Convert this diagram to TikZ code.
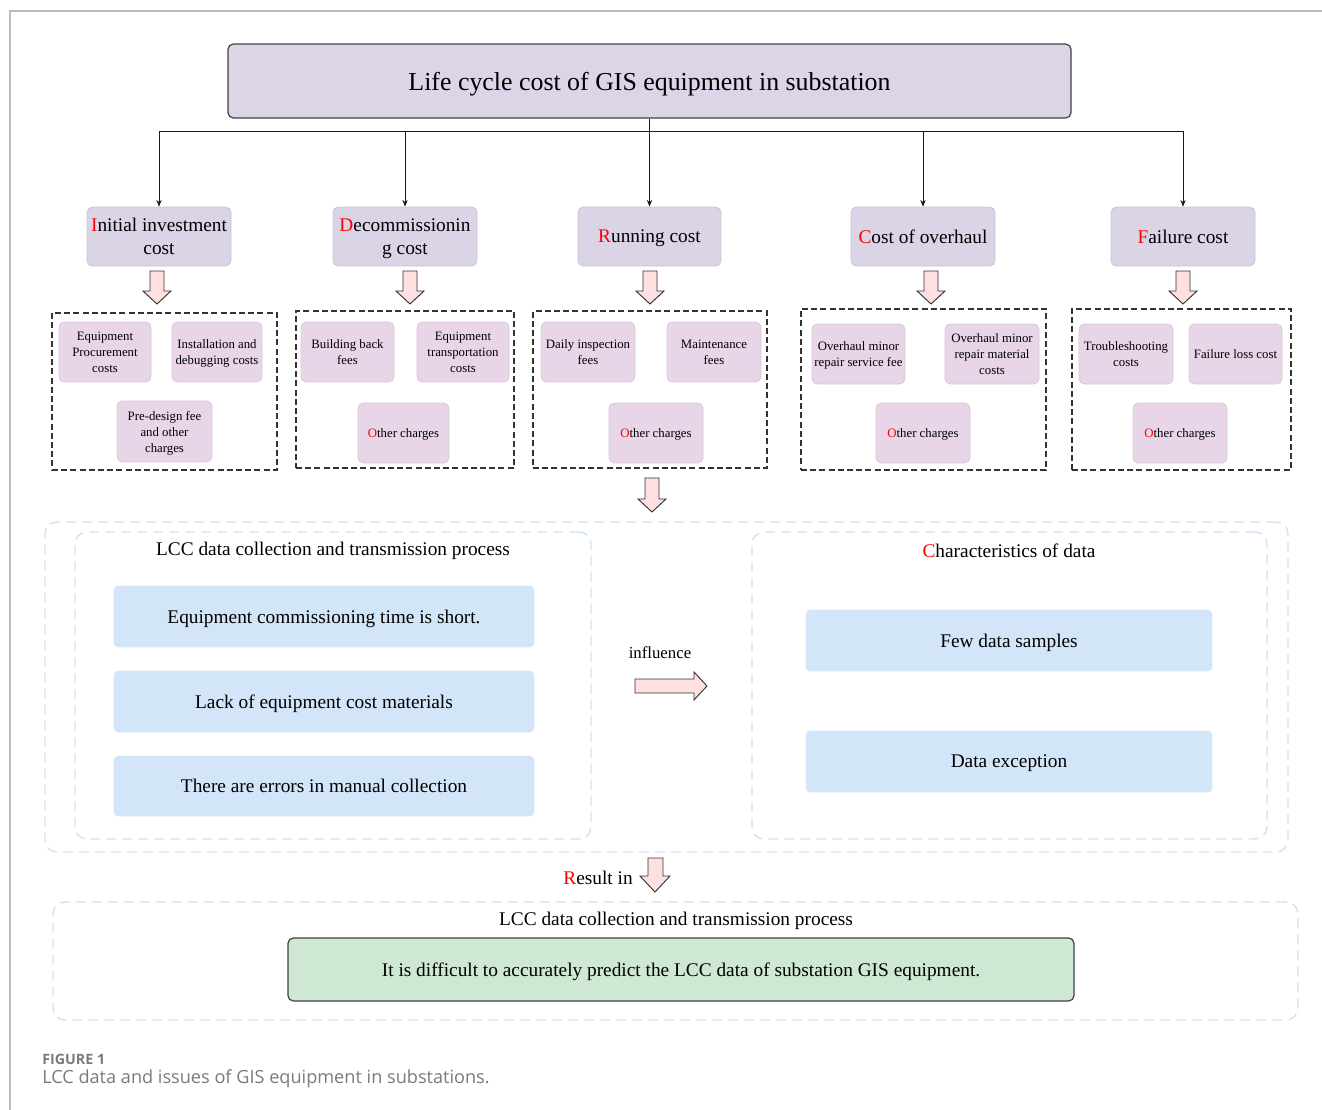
\documentclass[tikz,border=0pt]{standalone}
\usepackage{fontspec}
\setmainfont{Liberation Serif}
\newfontfamily\capfont{Open Sans}
\usetikzlibrary{arrows.meta}
\definecolor{titlefill}{HTML}{DCD5E8}
\definecolor{lvfill}{HTML}{DAD4E6}
\definecolor{lvborder}{HTML}{C9C4D6}
\definecolor{subfill}{HTML}{E8D6E8}
\definecolor{subborder}{HTML}{D6CAD6}
\definecolor{arrfill}{HTML}{FFE0E0}
\definecolor{bluefill}{HTML}{D3E5F9}
\definecolor{bluedash}{HTML}{CFE2F7}
\definecolor{greendash}{HTML}{CDEBD3}
\definecolor{greenfill}{HTML}{CFE8D4}
\definecolor{framegray}{HTML}{BDBDBD}
\definecolor{capgray}{HTML}{7A7A7A}
\newcommand\rl[1]{\textcolor{red}{#1}}
\newcommand\fsz[2]{\fontsize{#1}{#2}\selectfont}
\begin{document}
\begin{tikzpicture}[x=0.75pt,y=-0.75pt,
  titlebox/.style={draw=black!75, fill=titlefill, rounded corners=4pt, line width=0.9pt, inner sep=0pt, text depth=0pt, font=\fsz{19.4}{23}},
  lvtwo/.style={draw=lvborder, fill=lvfill, rounded corners=4pt, line width=0.6pt, inner sep=0pt, text depth=0pt, align=center, font=\fsz{14.5}{17.3}},
  subbox/.style={draw=subborder, fill=subfill, rounded corners=4pt, line width=0.6pt, inner sep=0pt, text depth=0pt, align=center, font=\fsz{9.6}{12}},
  grp/.style={draw=black!80, dash pattern=on 4.5pt off 2.4pt, line width=0.9pt, inner sep=0pt},
  bluegrp/.style={draw=bluedash, dash pattern=on 7.5pt off 4.5pt, line width=1.1pt, rounded corners=9pt, inner sep=0pt},
  greengrp/.style={draw=greendash, dash pattern=on 7.5pt off 4.5pt, line width=1.1pt, rounded corners=9pt, inner sep=0pt},
  bluebox/.style={draw=bluefill!80!white, fill=bluefill, rounded corners=3pt, line width=0.5pt, inner sep=0pt, text depth=0pt, align=center, font=\fsz{14.5}{17}},
  greenbox/.style={draw=black!75, fill=greenfill, rounded corners=4pt, line width=0.9pt, inner sep=0pt, text depth=0pt, align=center, font=\fsz{14.5}{17}},
  lbl/.style={inner sep=0pt, font=\fsz{14.5}{17}},
  conn/.style={draw=black!90, line width=0.6pt, -{Stealth[length=5pt,width=4pt]}},
  blockarrow/.style={draw=black!80, fill=arrfill, line width=0.7pt, line join=miter}
]
\newcommand\pbox[7]{\node[#6, minimum width={(#4-#2)*0.75pt}, minimum height={(#5-#3)*0.75pt}] (#1) at ({(#2+#4)/2},{(#3+#5)/2}) {#7};}
\newcommand\dnarrow[4]{\draw[blockarrow] (#1-7,#2) -- (#1+7,#2) -- (#1+7,#3) -- (#1+14,#3) -- (#1,#4) -- (#1-14,#3) -- (#1-7,#3) -- cycle;}
\useasboundingbox (0,0) rectangle (1322,1110);
% frame
\draw[framegray, line width=1.1pt] (10,1110) -- (10,11) -- (1322,11);
% title
\pbox{T}{228}{44}{1071}{118}{titlebox}{Life cycle cost of GIS equipment in substation}
% level 2
\pbox{L1}{87}{207}{231}{266}{lvtwo}{\rl{I}nitial investment\\cost}
\pbox{L2}{333}{207}{477}{266}{lvtwo}{\rl{D}ecommissionin\\g cost}
\pbox{L3}{578}{207}{721}{266}{lvtwo}{\rl{R}unning cost}
\pbox{L4}{851}{207}{995}{266}{lvtwo}{\rl{C}ost of overhaul}
\pbox{L5}{1111}{207}{1255}{266}{lvtwo}{\rl{F}ailure cost}
% connectors
\coordinate (bus) at (T.south |- 0,131);
\draw[conn] (T.south) -- (L3.north);
\draw[conn] (bus) -| (L1.north);
\draw[conn] (bus) -| (L2.north);
\draw[conn] (bus) -| (L4.north);
\draw[conn] (bus) -| (L5.north);
% down arrows
\dnarrow{157}{271}{291}{304}
\dnarrow{410}{271}{291}{304}
\dnarrow{650}{271}{291}{304}
\dnarrow{931}{271}{291}{304}
\dnarrow{1183}{271}{291}{304}
% groups
\pbox{G1}{52}{313}{277}{470}{grp}{}
\pbox{G2}{296}{311}{514}{468}{grp}{}
\pbox{G3}{533}{311}{767}{468}{grp}{}
\pbox{G4}{801}{309}{1046}{470}{grp}{}
\pbox{G5}{1072}{309}{1291}{470}{grp}{}
% sub boxes
\pbox{S11}{59}{322}{151}{382}{subbox}{Equipment\\Procurement\\costs}
\pbox{S12}{172}{322}{262}{382}{subbox}{Installation and\\debugging costs}
\pbox{S13}{117}{401}{212}{462}{subbox}{Pre-design fee\\and other\\charges}
\pbox{S21}{301}{322}{394}{382}{subbox}{Building back\\fees}
\pbox{S22}{417}{322}{509}{382}{subbox}{Equipment\\transportation\\costs}
\pbox{S23}{358}{403}{449}{463}{subbox}{\rl{O}ther charges}
\pbox{S31}{541}{322}{635}{382}{subbox}{Daily inspection\\fees}
\pbox{S32}{667}{322}{761}{382}{subbox}{Maintenance\\fees}
\pbox{S33}{609}{403}{703}{463}{subbox}{\rl{O}ther charges}
\pbox{S41}{812}{324}{905}{384}{subbox}{Overhaul minor\\repair service fee}
\pbox{S42}{945}{324}{1039}{384}{subbox}{Overhaul minor\\repair material\\costs}
\pbox{S43}{876}{403}{970}{463}{subbox}{\rl{O}ther charges}
\pbox{S51}{1079}{324}{1173}{384}{subbox}{Troubleshooting\\costs}
\pbox{S52}{1189}{324}{1282}{384}{subbox}{Failure loss cost}
\pbox{S53}{1133}{403}{1227}{463}{subbox}{\rl{O}ther charges}
% arrow to lower section
\dnarrow{652}{478}{499}{512}
% lower section
\pbox{B}{45}{522}{1288}{852}{bluegrp}{}
\pbox{BL}{75}{532}{591}{839}{bluegrp}{}
\pbox{BR}{752}{532}{1267}{839}{bluegrp}{}
\node[lbl] (BLt) at (333,551) {LCC data collection and transmission process};
\node[lbl] (BRt) at (1009,551) {\rl{C}haracteristics of data};
\pbox{P1}{114}{586}{534}{647}{bluebox}{Equipment commissioning time is short.}
\pbox{P2}{114}{671}{534}{732}{bluebox}{Lack of equipment cost materials}
\pbox{P3}{114}{756}{534}{816}{bluebox}{There are errors in manual collection}
\pbox{C1}{806}{610}{1212}{671}{bluebox}{Few data samples}
\pbox{C2}{806}{731}{1212}{792}{bluebox}{Data exception}
\node[inner sep=0pt, font=\fsz{12.6}{15}] (infl) at (660,653) {influence};
\draw[blockarrow] (635,679) -- (694,679) -- (694,672) -- (707,686) -- (694,700) -- (694,693) -- (635,693) -- cycle;
% result
\node[lbl, anchor=east] (res) at (633,878) {\rl{R}esult in};
\draw[blockarrow] (648,858) -- (663,858) -- (663,876) -- (670,876) -- (655,892) -- (640,876) -- (648,876) -- cycle;
\pbox{GR}{53}{902}{1298}{1020}{greengrp}{}
\node[lbl] (GRt) at (676,921) {LCC data collection and transmission process};
\pbox{R}{288}{938}{1074}{1001}{greenbox}{It is difficult to accurately predict the LCC data of substation GIS equipment.}
% caption
\node[anchor=west, inner sep=0pt, text=capgray, font=\capfont\bfseries\fsz{10.7}{12}] (fig) at (42,1059) {FIGURE 1};
\node[anchor=west, inner sep=0pt, text=capgray, font=\capfont\fsz{13.6}{16}] (cap) at (42,1079) {LCC data and issues of GIS equipment in substations.};
\end{tikzpicture}
\end{document}
